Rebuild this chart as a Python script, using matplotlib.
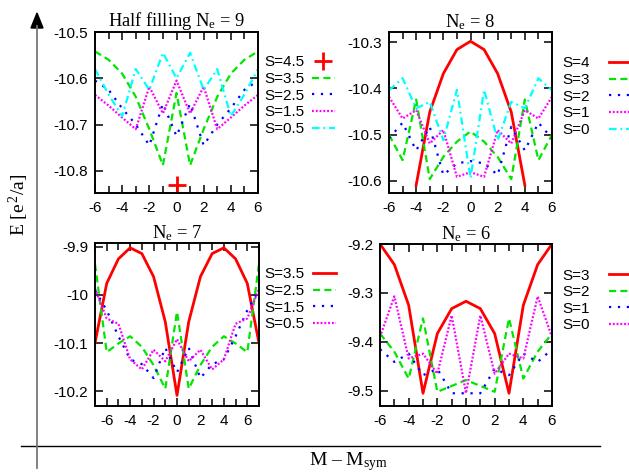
import matplotlib
matplotlib.use("Agg")
import matplotlib.pyplot as plt
from matplotlib.ticker import MultipleLocator, FuncFormatter, FixedLocator
from matplotlib.lines import Line2D
import numpy as np

plt.rcParams['font.family'] = ['Liberation Sans', 'DejaVu Sans']
plt.rcParams['axes.unicode_minus'] = False
plt.rcParams['mathtext.fontset'] = 'custom'
plt.rcParams['mathtext.rm'] = 'Liberation Serif'
plt.rcParams['mathtext.it'] = 'Liberation Serif:italic'

# ---------------- data ----------------
# Panel 1: half filling Ne = 9
x9 = [-6, -5, -4, -3, -2, -1, 0, 1, 2, 3, 4, 5, 6]
x9_s45 = [0]
e9_s45 = [-10.83]
e9_s35 = [-10.542, -10.560, -10.590, -10.640, -10.710, -10.788, -10.632,
          -10.788, -10.710, -10.640, -10.590, -10.560, -10.542]
e9_s25 = [-10.605, -10.625, -10.665, -10.700, -10.745, -10.655, -10.725,
          -10.655, -10.745, -10.700, -10.665, -10.625, -10.605]
e9_s15 = [-10.636, -10.659, -10.685, -10.710, -10.618, -10.676, -10.605,
          -10.676, -10.618, -10.710, -10.685, -10.659, -10.636]
e9_s05 = [-10.580, -10.635, -10.682, -10.580, -10.625, -10.545, -10.600,
          -10.545, -10.625, -10.580, -10.682, -10.635, -10.580]

# Panel 2: Ne = 8
x8 = [-6, -5, -4, -3, -2, -1, 0, 1, 2, 3, 4, 5, 6]
x8_s4 = [-4, -3, -2, -1, 0, 1, 2, 3, 4]
e8_s4 = [-10.609, -10.451, -10.368, -10.316, -10.298, -10.316, -10.368, -10.451, -10.609]
e8_s3 = [-10.500, -10.555, -10.424, -10.596, -10.548, -10.515, -10.493,
         -10.515, -10.548, -10.596, -10.424, -10.555, -10.500]
e8_s2 = [-10.508, -10.474, -10.534, -10.483, -10.587, -10.562, -10.557,
         -10.562, -10.587, -10.483, -10.534, -10.474, -10.508]
e8_s1 = [-10.418, -10.465, -10.447, -10.519, -10.490, -10.591, -10.581,
         -10.591, -10.490, -10.519, -10.447, -10.465, -10.418]
e8_s0 = [-10.404, -10.378, -10.443, -10.429, -10.512, -10.403, -10.594,
         -10.403, -10.512, -10.429, -10.443, -10.378, -10.404]

# Panel 3: Ne = 7
x7 = [-7, -6, -5, -4, -3, -2, -1, 0, 1, 2, 3, 4, 5, 6, 7]
e7_s35 = [-10.100, -9.976, -9.925, -9.902, -9.914, -9.962, -10.056, -10.209,
          -10.056, -9.962, -9.914, -9.902, -9.925, -9.976, -10.100]
e7_s25 = [-9.936, -10.119, -10.101, -10.086, -10.108, -10.146, -10.195, -10.035,
          -10.195, -10.146, -10.108, -10.086, -10.101, -10.119, -9.936]
e7_s15 = [-9.990, -10.032, -10.086, -10.134, -10.144, -10.173, -10.110, -10.161,
          -10.110, -10.173, -10.144, -10.134, -10.086, -10.032, -9.990]
e7_s05 = [-9.987, -10.049, -10.060, -10.134, -10.155, -10.114, -10.138, -10.092,
          -10.138, -10.114, -10.155, -10.134, -10.060, -10.049, -9.987]

# Panel 4: Ne = 6
x6 = [-6, -5, -4, -3, -2, -1, 0, 1, 2, 3, 4, 5, 6]
e6_s3 = [-9.200, -9.242, -9.325, -9.505, -9.383, -9.332, -9.317,
         -9.332, -9.383, -9.505, -9.325, -9.242, -9.200]
e6_s2 = [-9.383, -9.420, -9.475, -9.352, -9.502, -9.490, -9.478,
         -9.490, -9.502, -9.352, -9.475, -9.420, -9.383]
e6_s1 = [-9.415, -9.441, -9.424, -9.468, -9.455, -9.505, -9.505,
         -9.505, -9.455, -9.468, -9.424, -9.441, -9.415]
e6_s0 = [-9.390, -9.307, -9.434, -9.424, -9.465, -9.346, -9.505,
         -9.346, -9.465, -9.424, -9.434, -9.307, -9.390]

# ---------------- styles ----------------
RED, GREEN, BLUE, MAG, CYAN = '#ff0000', '#00e600', '#0000ff', '#ff00ff', '#00ffff'
LW = 1.6
sty_solid = dict(color=RED, lw=2.0, ls='-')
sty_dash = dict(color=GREEN, lw=LW, dashes=(3.2, 1.9))
sty_dot = dict(color=BLUE, lw=LW, dashes=(1.0, 3.0))
sty_fine = dict(color=MAG, lw=LW, dashes=(0.85, 0.85))
sty_dd = dict(color=CYAN, lw=LW, dashes=(3.4, 1.7, 0.85, 1.7))

W, H = 629, 473
fig = plt.figure(figsize=(W / 100, H / 100), dpi=100)


def box(x0, y0, x1, y1):
    return [x0 / W, 1 - y1 / H, (x1 - x0) / W, (y1 - y0) / H]


fmt = FuncFormatter(lambda v, p: '%g' % round(v, 4))
TICKFS = 11
TITLEFS = 13.3


def setup(ax, xlim, ylim, yticks, title):
    ax.set_xlim(*xlim)
    ax.set_ylim(*ylim)
    ax.xaxis.set_major_locator(MultipleLocator(2))
    ax.xaxis.set_minor_locator(MultipleLocator(1))
    ax.yaxis.set_major_locator(FixedLocator(yticks))
    ax.yaxis.set_major_formatter(fmt)
    ax.tick_params(which='both', direction='in', top=True, right=True,
                   width=1.1, labelsize=TICKFS)
    ax.tick_params(which='major', length=6)
    ax.tick_params(which='minor', length=5)
    ax.tick_params(axis='x', pad=6)
    ax.tick_params(axis='y', pad=5)
    for s in ax.spines.values():
        s.set_linewidth(1.4)
    ax.set_title(title, fontsize=TITLEFS, pad=2.5, family='Liberation Serif')


def leg(ax, x, y, pad, hl=2.0):
    ax.legend(loc='upper left', bbox_to_anchor=(x / W, 1 - y / H),
              bbox_transform=fig.transFigure, frameon=False, markerfirst=False,
              fontsize=TICKFS, handlelength=hl, handletextpad=pad,
              labelspacing=0.17, borderpad=0, borderaxespad=0)


# Panel 1
ax1 = fig.add_axes(box(95, 32, 258, 193))
ax1.plot(x9_s45, e9_s45, ls='none', marker='+', ms=13, mew=2.0, color=RED, label='S=4.5')
ax1.plot(x9, e9_s35, label='S=3.5', **sty_dash)
ax1.plot(x9, e9_s25, label='S=2.5', **sty_dot)
ax1.plot(x9, e9_s15, label='S=1.5', **sty_fine)
ax1.plot(x9, e9_s05, label='S=0.5', **sty_dd)
setup(ax1, (-6, 6), (-10.848, -10.5), [-10.8, -10.7, -10.6, -10.5],
      r'Half filling N$_{\mathrm{e}}$ = 9')
leg(ax1, 264, 55.5, 0.5, 1.5)

# Panel 2
ax2 = fig.add_axes(box(389, 32, 552, 193))
ax2.plot(x8_s4, e8_s4, label='S=4', **sty_solid)
ax2.plot(x8, e8_s3, label='S=3', **sty_dash)
ax2.plot(x8, e8_s2, label='S=2', **sty_dot)
ax2.plot(x8, e8_s1, label='S=1', **sty_fine)
ax2.plot(x8, e8_s0, label='S=0', **sty_dd)
setup(ax2, (-6, 6), (-10.626, -10.278), [-10.6, -10.5, -10.4, -10.3],
      r'N$_{\mathrm{e}}$ = 8')
leg(ax2, 562, 56.5, 1.3, 1.6)

# Panel 3
ax3 = fig.add_axes(box(95, 243, 259, 406))
ax3.plot(x7, e7_s35, label='S=3.5', **sty_solid)
ax3.plot(x7, e7_s25, label='S=2.5', **sty_dash)
ax3.plot(x7, e7_s15, label='S=1.5', **sty_dot)
ax3.plot(x7, e7_s05, label='S=0.5', **sty_fine)
setup(ax3, (-7, 7), (-10.231, -9.892), [-10.2, -10.1, -10.0, -9.9],
      r'N$_{\mathrm{e}}$ = 7')
leg(ax3, 264, 267.5, 0.6, 1.5)

# Panel 4
ax4 = fig.add_axes(box(380, 244, 552, 406))
ax4.plot(x6, e6_s3, label='S=3', **sty_solid)
ax4.plot(x6, e6_s2, label='S=2', **sty_dash)
ax4.plot(x6, e6_s1, label='S=1', **sty_dot)
ax4.plot(x6, e6_s0, label='S=0', **sty_fine)
setup(ax4, (-6, 6), (-9.531, -9.2), [-9.5, -9.4, -9.3, -9.2],
      r'N$_{\mathrm{e}}$ = 6')
leg(ax4, 562, 268.5, 1.3, 1.6)

# Outer frame axes: vertical arrow and horizontal baseline
fig.add_artist(Line2D([21 / W, 600 / W], [1 - 446 / H, 1 - 446 / H],
                      transform=fig.transFigure, color='black', lw=1.0))
fig.add_artist(Line2D([37 / W, 37 / W], [1 - 468 / H, 1 - 26 / H],
                      transform=fig.transFigure, color='#777777', lw=1.3))
fig.patches.append(plt.Polygon([[31 / W, 1 - 28 / H], [43 / W, 1 - 28 / H], [37 / W, 1 - 13 / H]],
                               closed=True, transform=fig.transFigure,
                               facecolor='black', edgecolor='black', figure=fig))

fig.text(19 / W, 1 - 205 / H, r'E [e$^{\,2}$/a]', rotation=90, ha='center', va='center',
         fontsize=14, family='Liberation Serif')
fig.text(348 / W, 1 - 462 / H, r'M – M$_{\mathrm{sym}}$', ha='center', va='center',
         fontsize=14, family='Liberation Serif')

fig.savefig('out.png', dpi=100)
